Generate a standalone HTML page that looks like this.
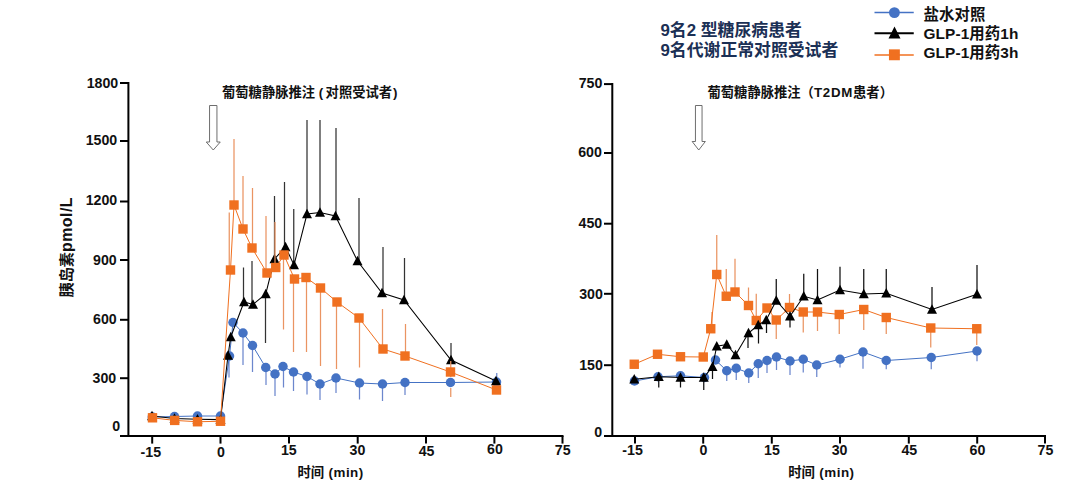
<!DOCTYPE html>
<html lang="zh-CN"><head><meta charset="utf-8"><title>GLP-1 胰岛素</title>
<style>
html,body{margin:0;padding:0;background:#fff;}
body{width:1080px;height:482px;overflow:hidden;}
svg{display:block;}
text{font-family:"Liberation Sans","Noto Sans CJK SC",sans-serif;font-weight:bold;fill:#111;}
.tk{font-size:14.2px;}
.sub{font-size:13.3px;}
.ax{font-size:13.4px;}
.yl{font-size:15.2px;}
.yll{font-size:16px;letter-spacing:0.4px;}
.hd{font-size:16.85px;fill:#1b3055;}
.lg{font-size:15.4px;letter-spacing:0.1px;}
</style></head><body>
<svg width="1080" height="482" viewBox="0 0 1080 482">
<rect width="1080" height="482" fill="#fff"/>
<path d="M128.4 82 V436 H563.5" fill="none" stroke="#000" stroke-width="2"/>
<line x1="120" y1="83" x2="128.4" y2="83" stroke="#000" stroke-width="2"/>
<text x="118.2" y="87.9" text-anchor="end" class="tk">1800</text>
<line x1="120" y1="141" x2="128.4" y2="141" stroke="#000" stroke-width="2"/>
<text x="117.2" y="144.5" text-anchor="end" class="tk">1500</text>
<line x1="120" y1="201.5" x2="128.4" y2="201.5" stroke="#000" stroke-width="2"/>
<text x="117.2" y="204.6" text-anchor="end" class="tk">1200</text>
<line x1="120" y1="260" x2="128.4" y2="260" stroke="#000" stroke-width="2"/>
<text x="116.7" y="264.5" text-anchor="end" class="tk">900</text>
<line x1="120" y1="319.8" x2="128.4" y2="319.8" stroke="#000" stroke-width="2"/>
<text x="116.7" y="324" text-anchor="end" class="tk">600</text>
<line x1="120" y1="378.2" x2="128.4" y2="378.2" stroke="#000" stroke-width="2"/>
<text x="116.2" y="382.5" text-anchor="end" class="tk">300</text>
<line x1="120" y1="436" x2="128.4" y2="436" stroke="#000" stroke-width="2"/>
<text x="120.1" y="430.8" text-anchor="end" class="tk">0</text>
<line x1="152.2" y1="436" x2="152.2" y2="443.6" stroke="#000" stroke-width="2"/>
<text x="150.8" y="457" text-anchor="middle" class="tk">-15</text>
<line x1="220.5" y1="436" x2="220.5" y2="443.6" stroke="#000" stroke-width="2"/>
<text x="221" y="457" text-anchor="middle" class="tk">0</text>
<line x1="289" y1="436" x2="289" y2="443.6" stroke="#000" stroke-width="2"/>
<text x="288.8" y="455" text-anchor="middle" class="tk">15</text>
<line x1="357.7" y1="436" x2="357.7" y2="443.6" stroke="#000" stroke-width="2"/>
<text x="357.5" y="455" text-anchor="middle" class="tk">30</text>
<line x1="426" y1="436" x2="426" y2="443.6" stroke="#000" stroke-width="2"/>
<text x="426.6" y="455.8" text-anchor="middle" class="tk">45</text>
<line x1="494.4" y1="436" x2="494.4" y2="443.6" stroke="#000" stroke-width="2"/>
<text x="495" y="454.3" text-anchor="middle" class="tk">60</text>
<line x1="562.5" y1="436" x2="562.5" y2="443.6" stroke="#000" stroke-width="2"/>
<text x="562.7" y="455" text-anchor="middle" class="tk">75</text>
<path d="M612.3 83.1 V436 H1046" fill="none" stroke="#000" stroke-width="2"/>
<line x1="604" y1="84.1" x2="612.3" y2="84.1" stroke="#000" stroke-width="2"/>
<text x="602.4" y="87.9" text-anchor="end" class="tk">750</text>
<line x1="604" y1="153" x2="612.3" y2="153" stroke="#000" stroke-width="2"/>
<text x="601.9" y="157.2" text-anchor="end" class="tk">600</text>
<line x1="604" y1="223.7" x2="612.3" y2="223.7" stroke="#000" stroke-width="2"/>
<text x="602.2" y="227.8" text-anchor="end" class="tk">450</text>
<line x1="604" y1="293.8" x2="612.3" y2="293.8" stroke="#000" stroke-width="2"/>
<text x="602.8" y="299.3" text-anchor="end" class="tk">300</text>
<line x1="604" y1="365.2" x2="612.3" y2="365.2" stroke="#000" stroke-width="2"/>
<text x="602.8" y="369.8" text-anchor="end" class="tk">150</text>
<line x1="604" y1="436" x2="612.3" y2="436" stroke="#000" stroke-width="2"/>
<text x="602.2" y="437" text-anchor="end" class="tk">0</text>
<line x1="635" y1="436" x2="635" y2="443.6" stroke="#000" stroke-width="2"/>
<text x="632.6" y="455" text-anchor="middle" class="tk">-15</text>
<line x1="703.2" y1="436" x2="703.2" y2="443.6" stroke="#000" stroke-width="2"/>
<text x="703.4" y="455.2" text-anchor="middle" class="tk">0</text>
<line x1="771.8" y1="436" x2="771.8" y2="443.6" stroke="#000" stroke-width="2"/>
<text x="772" y="455.2" text-anchor="middle" class="tk">15</text>
<line x1="840" y1="436" x2="840" y2="443.6" stroke="#000" stroke-width="2"/>
<text x="839.6" y="454.6" text-anchor="middle" class="tk">30</text>
<line x1="908.8" y1="436" x2="908.8" y2="443.6" stroke="#000" stroke-width="2"/>
<text x="909.3" y="455.2" text-anchor="middle" class="tk">45</text>
<line x1="977.2" y1="436" x2="977.2" y2="443.6" stroke="#000" stroke-width="2"/>
<text x="977.5" y="454.8" text-anchor="middle" class="tk">60</text>
<line x1="1045" y1="436" x2="1045" y2="443.6" stroke="#000" stroke-width="2"/>
<text x="1045.4" y="454.6" text-anchor="middle" class="tk">75</text>
<path d="M209.55 105.5 H216.95 V142 H220.25 L213.25 150 L206.25 142 H209.55 Z" fill="#fff" stroke="#666" stroke-width="0.95"/>
<path d="M695.45 105.5 H702.05 V141.5 H705.35 L698.75 150 L692.15 141.5 H695.45 Z" fill="#fff" stroke="#666" stroke-width="0.95"/>
<line x1="229" y1="356" x2="229" y2="377.5" stroke="#6c87cd" stroke-width="1.25"/><line x1="243" y1="333" x2="243" y2="365" stroke="#6c87cd" stroke-width="1.25"/><line x1="252.5" y1="345" x2="252.5" y2="372" stroke="#6c87cd" stroke-width="1.25"/><line x1="266" y1="367" x2="266" y2="385" stroke="#6c87cd" stroke-width="1.25"/><line x1="275" y1="374" x2="275" y2="396" stroke="#6c87cd" stroke-width="1.25"/><line x1="283.5" y1="366" x2="283.5" y2="387.5" stroke="#6c87cd" stroke-width="1.25"/><line x1="293.5" y1="372" x2="293.5" y2="391" stroke="#6c87cd" stroke-width="1.25"/><line x1="307" y1="376" x2="307" y2="394.5" stroke="#6c87cd" stroke-width="1.25"/><line x1="320" y1="384" x2="320" y2="400" stroke="#6c87cd" stroke-width="1.25"/><line x1="336" y1="378" x2="336" y2="393" stroke="#6c87cd" stroke-width="1.25"/><line x1="359.5" y1="383" x2="359.5" y2="399.5" stroke="#6c87cd" stroke-width="1.25"/><line x1="382.5" y1="384" x2="382.5" y2="401" stroke="#6c87cd" stroke-width="1.25"/><line x1="405" y1="382" x2="405" y2="395" stroke="#6c87cd" stroke-width="1.25"/><line x1="496.75" y1="373" x2="496.75" y2="382" stroke="#6c87cd" stroke-width="1.25"/>
<polyline fill="none" stroke="#4472c4" stroke-width="1" points="152.3,417 174.5,416.5 197.5,416 220.5,416 229.5,356 233,322.5 243,333 252.5,345.5 265.75,367.5 275,374 283,366.5 293.5,372 307,376.5 320,384 336,378 359.5,383 382.5,384 405,382.5 450.5,382.5 496.5,382"/>
<circle cx="152.3" cy="417" r="4.75" fill="#4472c4"/><circle cx="174.5" cy="416.5" r="4.75" fill="#4472c4"/><circle cx="197.5" cy="416" r="4.75" fill="#4472c4"/><circle cx="220.5" cy="416" r="4.75" fill="#4472c4"/><circle cx="229.5" cy="356" r="4.75" fill="#4472c4"/><circle cx="233" cy="322.5" r="4.75" fill="#4472c4"/><circle cx="243" cy="333" r="4.75" fill="#4472c4"/><circle cx="252.5" cy="345.5" r="4.75" fill="#4472c4"/><circle cx="265.75" cy="367.5" r="4.75" fill="#4472c4"/><circle cx="275" cy="374" r="4.75" fill="#4472c4"/><circle cx="283" cy="366.5" r="4.75" fill="#4472c4"/><circle cx="293.5" cy="372" r="4.75" fill="#4472c4"/><circle cx="307" cy="376.5" r="4.75" fill="#4472c4"/><circle cx="320" cy="384" r="4.75" fill="#4472c4"/><circle cx="336" cy="378" r="4.75" fill="#4472c4"/><circle cx="359.5" cy="383" r="4.75" fill="#4472c4"/><circle cx="382.5" cy="384" r="4.75" fill="#4472c4"/><circle cx="405" cy="382.5" r="4.75" fill="#4472c4"/><circle cx="450.5" cy="382.5" r="4.75" fill="#4472c4"/><circle cx="496.5" cy="382" r="4.75" fill="#4472c4"/>
<line x1="243.5" y1="267.5" x2="243.5" y2="302" stroke="#333" stroke-width="1.25"/><line x1="252" y1="261" x2="252" y2="304" stroke="#333" stroke-width="1.25"/><line x1="265.5" y1="294" x2="265.5" y2="343" stroke="#333" stroke-width="1.25"/><line x1="274.5" y1="196" x2="274.5" y2="259" stroke="#333" stroke-width="1.25"/><line x1="284.5" y1="182" x2="284.5" y2="247" stroke="#333" stroke-width="1.25"/><line x1="293.75" y1="209" x2="293.75" y2="265" stroke="#333" stroke-width="1.25"/><line x1="307" y1="120" x2="307" y2="214" stroke="#333" stroke-width="1.25"/><line x1="320" y1="120" x2="320" y2="212" stroke="#333" stroke-width="1.25"/><line x1="336" y1="128" x2="336" y2="216" stroke="#333" stroke-width="1.25"/><line x1="359" y1="198" x2="359" y2="261" stroke="#333" stroke-width="1.25"/><line x1="383" y1="247" x2="383" y2="293" stroke="#333" stroke-width="1.25"/><line x1="404.5" y1="258" x2="404.5" y2="300" stroke="#333" stroke-width="1.25"/><line x1="451" y1="343" x2="451" y2="360" stroke="#333" stroke-width="1.25"/>
<polyline fill="none" stroke="#000" stroke-width="1.05" points="152,415.9 174.5,418.4 197.5,419.2 220.5,419.6 228,355.5 230.75,337 244,302 253,304.5 265.75,294 274.5,259 285.5,247 294,265 307,214 320,212.5 335.5,216 357.5,261 382,293 404,300 451,360 496,381"/>
<polygon points="152,410.7 147,420.2 157,420.2" fill="#000"/><polygon points="174.5,413.2 169.5,422.7 179.5,422.7" fill="#000"/><polygon points="197.5,414 192.5,423.5 202.5,423.5" fill="#000"/><polygon points="220.5,414.4 215.5,423.9 225.5,423.9" fill="#000"/><polygon points="228,350.3 223,359.8 233,359.8" fill="#000"/><polygon points="230.75,331.8 225.75,341.3 235.75,341.3" fill="#000"/><polygon points="244,296.8 239,306.3 249,306.3" fill="#000"/><polygon points="253,299.3 248,308.8 258,308.8" fill="#000"/><polygon points="265.75,288.8 260.75,298.3 270.75,298.3" fill="#000"/><polygon points="274.5,253.8 269.5,263.3 279.5,263.3" fill="#000"/><polygon points="285.5,241.8 280.5,251.3 290.5,251.3" fill="#000"/><polygon points="294,259.8 289,269.3 299,269.3" fill="#000"/><polygon points="307,208.8 302,218.3 312,218.3" fill="#000"/><polygon points="320,207.3 315,216.8 325,216.8" fill="#000"/><polygon points="335.5,210.8 330.5,220.3 340.5,220.3" fill="#000"/><polygon points="357.5,255.8 352.5,265.3 362.5,265.3" fill="#000"/><polygon points="382,287.8 377,297.3 387,297.3" fill="#000"/><polygon points="404,294.8 399,304.3 409,304.3" fill="#000"/><polygon points="451,354.8 446,364.3 456,364.3" fill="#000"/><polygon points="496,375.8 491,385.3 501,385.3" fill="#000"/>
<line x1="229.25" y1="212.5" x2="229.25" y2="270" stroke="#ea9462" stroke-width="1.25"/><line x1="234" y1="139" x2="234" y2="205" stroke="#ea9462" stroke-width="1.25"/><line x1="243" y1="176" x2="243" y2="229" stroke="#ea9462" stroke-width="1.25"/><line x1="252.5" y1="188" x2="252.5" y2="248" stroke="#ea9462" stroke-width="1.25"/><line x1="266" y1="216" x2="266" y2="273" stroke="#ea9462" stroke-width="1.25"/><line x1="275" y1="222" x2="275" y2="267" stroke="#ea9462" stroke-width="1.25"/><line x1="283.5" y1="255" x2="283.5" y2="329.5" stroke="#ea9462" stroke-width="1.25"/><line x1="293.5" y1="279" x2="293.5" y2="352" stroke="#ea9462" stroke-width="1.25"/><line x1="306.5" y1="277" x2="306.5" y2="352" stroke="#ea9462" stroke-width="1.25"/><line x1="320.5" y1="288" x2="320.5" y2="366" stroke="#ea9462" stroke-width="1.25"/><line x1="336.5" y1="302" x2="336.5" y2="369" stroke="#ea9462" stroke-width="1.25"/><line x1="359.5" y1="318" x2="359.5" y2="367.5" stroke="#ea9462" stroke-width="1.25"/><line x1="382.5" y1="309" x2="382.5" y2="349" stroke="#ea9462" stroke-width="1.25"/><line x1="405.5" y1="324" x2="405.5" y2="356" stroke="#ea9462" stroke-width="1.25"/><line x1="450.75" y1="361" x2="450.75" y2="377" stroke="#ea9462" stroke-width="1.25"/><line x1="450.75" y1="388" x2="450.75" y2="397" stroke="#ea9462" stroke-width="1.25"/>
<polyline fill="none" stroke="#f07020" stroke-width="1" points="152.5,417.8 174.7,420.4 197.5,421.75 220.5,421.25 230.5,270 234,205 243,229 252,248 267,273 275.75,267.5 284,255 294.5,279 306,277.5 320.5,288 337,302 359,318 383,349 405,356 450.5,372 496.5,390"/>
<rect x="147.8" y="413.1" width="9.4" height="9.4" fill="#f07020"/><rect x="170" y="415.7" width="9.4" height="9.4" fill="#f07020"/><rect x="192.8" y="417.05" width="9.4" height="9.4" fill="#f07020"/><rect x="215.8" y="416.55" width="9.4" height="9.4" fill="#f07020"/><rect x="225.8" y="265.3" width="9.4" height="9.4" fill="#f07020"/><rect x="229.3" y="200.3" width="9.4" height="9.4" fill="#f07020"/><rect x="238.3" y="224.3" width="9.4" height="9.4" fill="#f07020"/><rect x="247.3" y="243.3" width="9.4" height="9.4" fill="#f07020"/><rect x="262.3" y="268.3" width="9.4" height="9.4" fill="#f07020"/><rect x="271.05" y="262.8" width="9.4" height="9.4" fill="#f07020"/><rect x="279.3" y="250.3" width="9.4" height="9.4" fill="#f07020"/><rect x="289.8" y="274.3" width="9.4" height="9.4" fill="#f07020"/><rect x="301.3" y="272.8" width="9.4" height="9.4" fill="#f07020"/><rect x="315.8" y="283.3" width="9.4" height="9.4" fill="#f07020"/><rect x="332.3" y="297.3" width="9.4" height="9.4" fill="#f07020"/><rect x="354.3" y="313.3" width="9.4" height="9.4" fill="#f07020"/><rect x="378.3" y="344.3" width="9.4" height="9.4" fill="#f07020"/><rect x="400.3" y="351.3" width="9.4" height="9.4" fill="#f07020"/><rect x="445.8" y="367.3" width="9.4" height="9.4" fill="#f07020"/><rect x="491.8" y="385.3" width="9.4" height="9.4" fill="#f07020"/>
<line x1="726.75" y1="370" x2="726.75" y2="381" stroke="#6c87cd" stroke-width="1.25"/><line x1="736.25" y1="368" x2="736.25" y2="380" stroke="#6c87cd" stroke-width="1.25"/><line x1="748.75" y1="373" x2="748.75" y2="383" stroke="#6c87cd" stroke-width="1.25"/><line x1="758.25" y1="363" x2="758.25" y2="378" stroke="#6c87cd" stroke-width="1.25"/><line x1="767" y1="360" x2="767" y2="373" stroke="#6c87cd" stroke-width="1.25"/><line x1="776.5" y1="357" x2="776.5" y2="370" stroke="#6c87cd" stroke-width="1.25"/><line x1="790" y1="361" x2="790" y2="375" stroke="#6c87cd" stroke-width="1.25"/><line x1="803.25" y1="359" x2="803.25" y2="372.5" stroke="#6c87cd" stroke-width="1.25"/><line x1="816.75" y1="365" x2="816.75" y2="377" stroke="#6c87cd" stroke-width="1.25"/><line x1="840" y1="359" x2="840" y2="367.5" stroke="#6c87cd" stroke-width="1.25"/><line x1="863" y1="352" x2="863" y2="368.75" stroke="#6c87cd" stroke-width="1.25"/><line x1="886.25" y1="360" x2="886.25" y2="369.25" stroke="#6c87cd" stroke-width="1.25"/><line x1="931.25" y1="357" x2="931.25" y2="369.25" stroke="#6c87cd" stroke-width="1.25"/><line x1="977" y1="351" x2="977" y2="361.25" stroke="#6c87cd" stroke-width="1.25"/>
<polyline fill="none" stroke="#4472c4" stroke-width="1" points="634.5,381 658,376.75 680.5,375.75 704.5,377.5 715.5,360 726.75,370.75 736.25,368.25 748.75,373 758.25,363.75 767,360.5 776.5,357 790,361 803.25,359.25 816.75,365 840,359.25 863,352 886.25,360.5 931.25,357.5 977,351"/>
<circle cx="634.5" cy="381" r="4.75" fill="#4472c4"/><circle cx="658" cy="376.75" r="4.75" fill="#4472c4"/><circle cx="680.5" cy="375.75" r="4.75" fill="#4472c4"/><circle cx="704.5" cy="377.5" r="4.75" fill="#4472c4"/><circle cx="715.5" cy="360" r="4.75" fill="#4472c4"/><circle cx="726.75" cy="370.75" r="4.75" fill="#4472c4"/><circle cx="736.25" cy="368.25" r="4.75" fill="#4472c4"/><circle cx="748.75" cy="373" r="4.75" fill="#4472c4"/><circle cx="758.25" cy="363.75" r="4.75" fill="#4472c4"/><circle cx="767" cy="360.5" r="4.75" fill="#4472c4"/><circle cx="776.5" cy="357" r="4.75" fill="#4472c4"/><circle cx="790" cy="361" r="4.75" fill="#4472c4"/><circle cx="803.25" cy="359.25" r="4.75" fill="#4472c4"/><circle cx="816.75" cy="365" r="4.75" fill="#4472c4"/><circle cx="840" cy="359.25" r="4.75" fill="#4472c4"/><circle cx="863" cy="352" r="4.75" fill="#4472c4"/><circle cx="886.25" cy="360.5" r="4.75" fill="#4472c4"/><circle cx="931.25" cy="357.5" r="4.75" fill="#4472c4"/><circle cx="977" cy="351" r="4.75" fill="#4472c4"/>
<line x1="712" y1="312" x2="712" y2="328" stroke="#ea9462" stroke-width="1.25"/><line x1="716.75" y1="235" x2="716.75" y2="274" stroke="#ea9462" stroke-width="1.25"/><line x1="726.25" y1="269" x2="726.25" y2="296" stroke="#ea9462" stroke-width="1.25"/><line x1="735" y1="258.75" x2="735" y2="292" stroke="#ea9462" stroke-width="1.25"/><line x1="748.5" y1="287.5" x2="748.5" y2="305" stroke="#ea9462" stroke-width="1.25"/><line x1="756.25" y1="293.75" x2="756.25" y2="320" stroke="#ea9462" stroke-width="1.25"/><line x1="776.25" y1="320" x2="776.25" y2="339" stroke="#ea9462" stroke-width="1.25"/><line x1="789.5" y1="294" x2="789.5" y2="307" stroke="#ea9462" stroke-width="1.25"/><line x1="803.25" y1="312" x2="803.25" y2="332.5" stroke="#ea9462" stroke-width="1.25"/><line x1="817.5" y1="312" x2="817.5" y2="331" stroke="#ea9462" stroke-width="1.25"/><line x1="839.25" y1="314" x2="839.25" y2="334" stroke="#ea9462" stroke-width="1.25"/><line x1="863.75" y1="309" x2="863.75" y2="330" stroke="#ea9462" stroke-width="1.25"/><line x1="886.25" y1="317" x2="886.25" y2="334" stroke="#ea9462" stroke-width="1.25"/><line x1="930.75" y1="328" x2="930.75" y2="347.5" stroke="#ea9462" stroke-width="1.25"/><line x1="976.75" y1="328" x2="976.75" y2="345" stroke="#ea9462" stroke-width="1.25"/>
<polyline fill="none" stroke="#f07020" stroke-width="1" points="634.25,364.25 657.5,354.25 680.5,356.75 703.25,357 710.75,328.75 716.75,274.5 726.25,296.25 735,292 748.5,305.5 756.25,320.5 767,308 776.25,320 789.5,307.5 803.25,312 817.5,312 839.25,314.5 863.75,309.5 886.25,317.5 930.75,328 976.75,328.75"/>
<rect x="629.55" y="359.55" width="9.4" height="9.4" fill="#f07020"/><rect x="652.8" y="349.55" width="9.4" height="9.4" fill="#f07020"/><rect x="675.8" y="352.05" width="9.4" height="9.4" fill="#f07020"/><rect x="698.55" y="352.3" width="9.4" height="9.4" fill="#f07020"/><rect x="706.05" y="324.05" width="9.4" height="9.4" fill="#f07020"/><rect x="712.05" y="269.8" width="9.4" height="9.4" fill="#f07020"/><rect x="721.55" y="291.55" width="9.4" height="9.4" fill="#f07020"/><rect x="730.3" y="287.3" width="9.4" height="9.4" fill="#f07020"/><rect x="743.8" y="300.8" width="9.4" height="9.4" fill="#f07020"/><rect x="751.55" y="315.8" width="9.4" height="9.4" fill="#f07020"/><rect x="762.3" y="303.3" width="9.4" height="9.4" fill="#f07020"/><rect x="771.55" y="315.3" width="9.4" height="9.4" fill="#f07020"/><rect x="784.8" y="302.8" width="9.4" height="9.4" fill="#f07020"/><rect x="798.55" y="307.3" width="9.4" height="9.4" fill="#f07020"/><rect x="812.8" y="307.3" width="9.4" height="9.4" fill="#f07020"/><rect x="834.55" y="309.8" width="9.4" height="9.4" fill="#f07020"/><rect x="859.05" y="304.8" width="9.4" height="9.4" fill="#f07020"/><rect x="881.55" y="312.8" width="9.4" height="9.4" fill="#f07020"/><rect x="926.05" y="323.3" width="9.4" height="9.4" fill="#f07020"/><rect x="972.05" y="324.05" width="9.4" height="9.4" fill="#f07020"/>
<line x1="658.75" y1="376" x2="658.75" y2="387.5" stroke="#111" stroke-width="1.25"/><line x1="680.5" y1="377" x2="680.5" y2="387.5" stroke="#111" stroke-width="1.25"/><line x1="703.75" y1="377" x2="703.75" y2="390" stroke="#111" stroke-width="1.25"/><line x1="712.5" y1="366" x2="712.5" y2="379" stroke="#111" stroke-width="1.25"/><line x1="748" y1="333" x2="748" y2="348" stroke="#111" stroke-width="1.25"/><line x1="758.5" y1="325" x2="758.5" y2="343.5" stroke="#111" stroke-width="1.25"/><line x1="766.5" y1="320" x2="766.5" y2="333" stroke="#111" stroke-width="1.25"/><line x1="776.25" y1="279" x2="776.25" y2="300" stroke="#111" stroke-width="1.25"/><line x1="790" y1="316" x2="790" y2="327.5" stroke="#111" stroke-width="1.25"/><line x1="803.75" y1="273.75" x2="803.75" y2="296" stroke="#111" stroke-width="1.25"/><line x1="817.5" y1="269" x2="817.5" y2="300" stroke="#111" stroke-width="1.25"/><line x1="840" y1="266.75" x2="840" y2="290" stroke="#111" stroke-width="1.25"/><line x1="863.75" y1="269" x2="863.75" y2="294" stroke="#111" stroke-width="1.25"/><line x1="886.25" y1="269" x2="886.25" y2="293" stroke="#111" stroke-width="1.25"/><line x1="932" y1="287" x2="932" y2="309" stroke="#111" stroke-width="1.25"/><line x1="977" y1="265" x2="977" y2="294" stroke="#111" stroke-width="1.25"/>
<polyline fill="none" stroke="#000" stroke-width="1.05" points="634.25,379.25 658.75,376.75 680.5,377.5 703.75,377.5 712.5,366.75 716.75,346.25 726.75,344.5 735.5,355 748.5,333 758.25,325 766.25,320 776.25,300.5 790,316.25 803.75,296.25 817.5,300 840,290 863.75,294 886.25,293.25 932,309.5 977,294.25"/>
<polygon points="634.25,374.05 629.25,383.55 639.25,383.55" fill="#000"/><polygon points="658.75,371.55 653.75,381.05 663.75,381.05" fill="#000"/><polygon points="680.5,372.3 675.5,381.8 685.5,381.8" fill="#000"/><polygon points="703.75,372.3 698.75,381.8 708.75,381.8" fill="#000"/><polygon points="712.5,361.55 707.5,371.05 717.5,371.05" fill="#000"/><polygon points="716.75,341.05 711.75,350.55 721.75,350.55" fill="#000"/><polygon points="726.75,339.3 721.75,348.8 731.75,348.8" fill="#000"/><polygon points="735.5,349.8 730.5,359.3 740.5,359.3" fill="#000"/><polygon points="748.5,327.8 743.5,337.3 753.5,337.3" fill="#000"/><polygon points="758.25,319.8 753.25,329.3 763.25,329.3" fill="#000"/><polygon points="766.25,314.8 761.25,324.3 771.25,324.3" fill="#000"/><polygon points="776.25,295.3 771.25,304.8 781.25,304.8" fill="#000"/><polygon points="790,311.05 785,320.55 795,320.55" fill="#000"/><polygon points="803.75,291.05 798.75,300.55 808.75,300.55" fill="#000"/><polygon points="817.5,294.8 812.5,304.3 822.5,304.3" fill="#000"/><polygon points="840,284.8 835,294.3 845,294.3" fill="#000"/><polygon points="863.75,288.8 858.75,298.3 868.75,298.3" fill="#000"/><polygon points="886.25,288.05 881.25,297.55 891.25,297.55" fill="#000"/><polygon points="932,304.3 927,313.8 937,313.8" fill="#000"/><polygon points="977,289.05 972,298.55 982,298.55" fill="#000"/>
<text x="222" y="96.5" class="sub">葡萄糖静脉推注 (<tspan dx="2.4">对照受试者</tspan><tspan dx="0.8">)</tspan></text>
<text x="707.5" y="97" class="sub">葡萄糖静脉推注（<tspan letter-spacing="0.75">T2DM</tspan>患者）</text>
<text x="297.4" y="476.5" class="ax">时间 <tspan dx="0.6" letter-spacing="0.5">(min)</tspan></text>
<text x="788.2" y="476.5" class="ax">时间 <tspan dx="0.6" letter-spacing="0.5">(min)</tspan></text>
<text transform="translate(71.5,247.3) rotate(-90)" text-anchor="middle" class="yl">胰岛素<tspan class="yll">pmol/L</tspan></text>
<text x="660.5" y="36" class="hd">9名2 型糖尿病患者</text>
<text x="660.5" y="55.7" class="hd">9名代谢正常对照受试者</text>
<line x1="874.5" y1="12.5" x2="913.75" y2="12.5" stroke="#4472c4" stroke-width="1.6"/>
<circle cx="894.4" cy="12.6" r="5.45" fill="#4472c4"/>
<line x1="874.5" y1="33.2" x2="913.75" y2="33.2" stroke="#000" stroke-width="1.9"/>
<polygon points="894.5,26.5 888.5,38.5 900.5,38.5" fill="#000"/>
<line x1="874.5" y1="55" x2="913.75" y2="55" stroke="#f07020" stroke-width="1.7"/>
<rect x="888.95" y="49.35" width="10.9" height="10.9" fill="#f07020"/>
<text x="923.5" y="19.5" class="lg">盐水对照</text>
<text x="923.5" y="38.6" class="lg">GLP-1用药1h</text>
<text x="923.5" y="57.5" class="lg">GLP-1用药3h</text>
</svg>
</body></html>
